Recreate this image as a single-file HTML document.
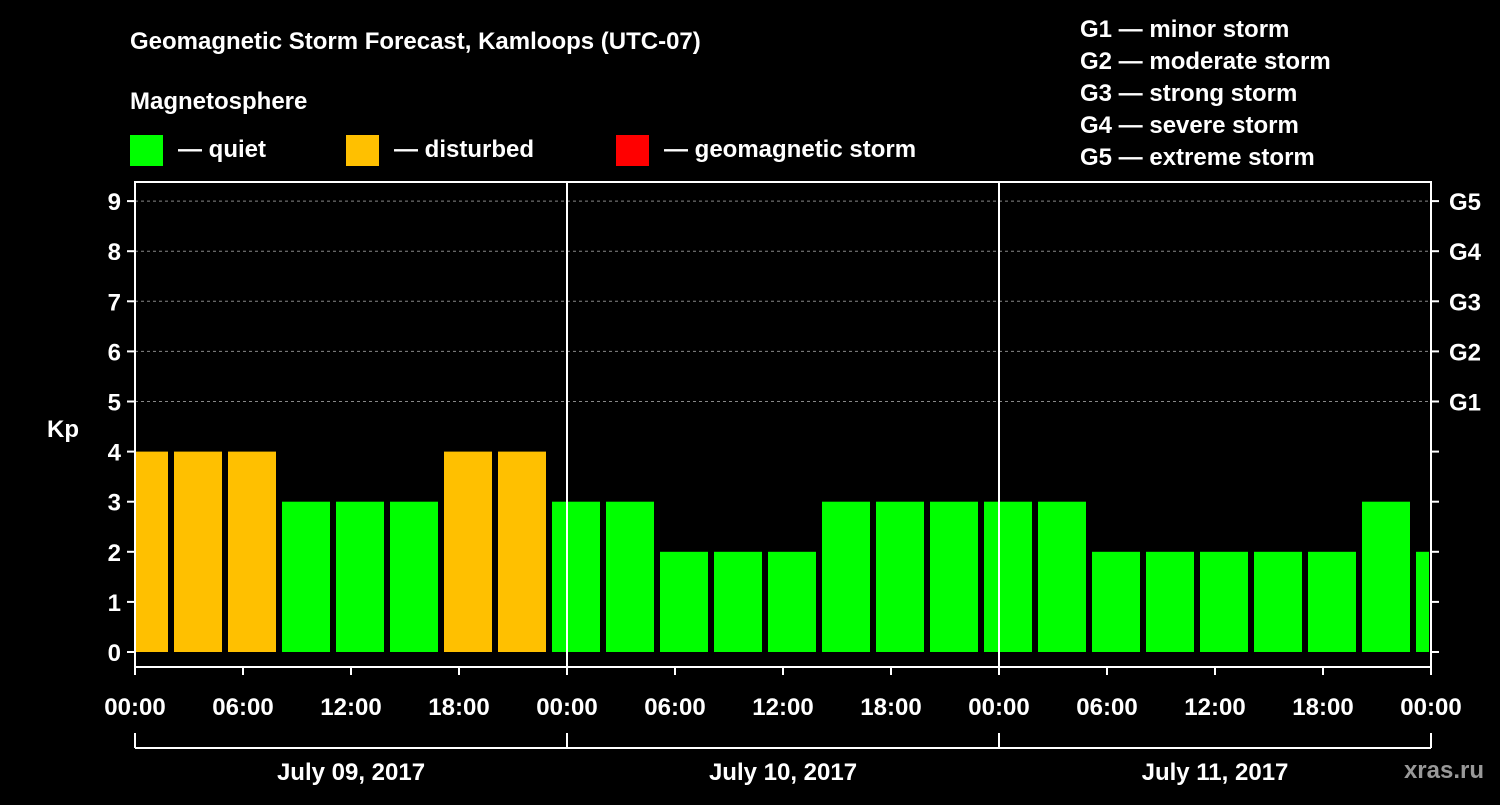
<!DOCTYPE html>
<html><head><meta charset="utf-8"><style>
body{margin:0;background:#000;}
svg text{font-family:"Liberation Sans",Arial,sans-serif;font-weight:bold;fill:#fff;}
</style></head><body>
<svg id="chart" width="1500" height="800" viewBox="0 0 1500 800" xmlns="http://www.w3.org/2000/svg">
<rect width="1500" height="800" fill="#000"/>
<text x="130" y="49" font-size="24">Geomagnetic Storm Forecast, Kamloops (UTC-07)</text>
<text x="130" y="109" font-size="24">Magnetosphere</text>
<g>
<rect x="130" y="135" width="33" height="31" fill="#00ff00"/>
<text x="178" y="157" font-size="24">— quiet</text>
<rect x="346" y="135" width="33" height="31" fill="#ffc000"/>
<text x="394" y="157" font-size="24">— disturbed</text>
<rect x="616" y="135" width="33" height="31" fill="#ff0000"/>
<text x="664" y="157" font-size="24">— geomagnetic storm</text>
</g>
<g font-size="24">
<text x="1080" y="37">G1 — minor storm</text>
<text x="1080" y="69">G2 — moderate storm</text>
<text x="1080" y="101">G3 — strong storm</text>
<text x="1080" y="133">G4 — severe storm</text>
<text x="1080" y="165">G5 — extreme storm</text>
</g>
<text x="63" y="437" font-size="24" text-anchor="middle">Kp</text>
<text x="1484" y="778" font-size="24" text-anchor="end" style="fill:#999">xras.ru</text>
<g id="grid"></g><g id="bars"></g><g id="axes"></g>
</svg>
<script>
const kpValues=[4,4,4,3,3,3,4,4,3,3,2,2,2,3,3,3,3,3,2,2,2,2,2,3,2];
const yTicks=[0,1,2,3,4,5,6,7,8,9];
const gLabels=["G1","G2","G3","G4","G5"];
const xTickLabels=["00:00","06:00","12:00","18:00","00:00","06:00","12:00","18:00","00:00","06:00","12:00","18:00","00:00"];
const dayLabels=["July 09, 2017","July 10, 2017","July 11, 2017"];
const firstSlotHour=-1;
const NS="http://www.w3.org/2000/svg";
const X0=135,PXH=432/24,Y0=652,PXK=50.1,TOP=182,BOT=667,XEND=X0+PXH*72;
const x=h=>X0+h*PXH, y=k=>Y0-k*PXK;
function mk(tag,attrs,parent,txt){const e=document.createElementNS(NS,tag);for(const k in attrs)e.setAttribute(k,attrs[k]);if(txt!==undefined)e.textContent=txt;document.getElementById(parent).appendChild(e);return e;}
// grid
for(let k=5;k<=9;k++){
 const l=mk('line',{x1:X0,x2:XEND,y1:y(k),y2:y(k),stroke:'#888','stroke-dasharray':'3,3','stroke-width':1},'grid');
 
 
}
// bars
kpValues.forEach((v,i)=>{
 const h0=firstSlotHour+i*3,h1=h0+3;
 const a=Math.max(x(h0)+3,X0+1),b=Math.min(x(h1)-3,XEND-2);
 const r=mk('rect',{x:a,y:y(v),width:b-a,height:Y0-y(v),fill:v>=5?'#ff0000':(v>=4?'#ffc000':'#00ff00')},'bars');
 
 
});
// frame
const fr=mk('rect',{x:X0,y:TOP,width:XEND-X0,height:BOT-TOP,fill:'none',stroke:'#fff','stroke-width':2},'axes');


for(let d=1;d<3;d++){
 const l=mk('line',{x1:x(d*24),x2:x(d*24),y1:TOP,y2:BOT,stroke:'#fff','stroke-width':2},'axes');
 
 
}
yTicks.forEach(k=>{
 mk('line',{x1:X0-8,x2:X0,y1:y(k),y2:y(k),stroke:'#fff','stroke-width':2},'axes');
 mk('line',{x1:XEND,x2:XEND+8,y1:y(k),y2:y(k),stroke:'#fff','stroke-width':2},'axes');
 const t=mk('text',{x:X0-14,y:y(k)+9,'font-size':24,'text-anchor':'end'},'axes',String(k));
 
 
});
gLabels.forEach((g,i)=>{
 const t=mk('text',{x:XEND+18,y:y(5+i)+9,'font-size':24},'axes',g);
 
 
});
xTickLabels.forEach((s,i)=>{
 mk('line',{x1:x(i*6),x2:x(i*6),y1:BOT,y2:BOT+8,stroke:'#fff','stroke-width':2},'axes');
 const t=mk('text',{x:x(i*6),y:715,'font-size':24,'text-anchor':'middle'},'axes',s);
 
 
});
mk('line',{x1:X0,x2:XEND,y1:748,y2:748,stroke:'#fff','stroke-width':2},'axes');
for(let d=0;d<=3;d++) mk('line',{x1:x(d*24),x2:x(d*24),y1:733,y2:748,stroke:'#fff','stroke-width':2},'axes');
dayLabels.forEach((s,d)=>{
 const t=mk('text',{x:x(d*24+12),y:780,'font-size':24,'text-anchor':'middle'},'axes',s);
 
 
});
</script>
</body></html>
